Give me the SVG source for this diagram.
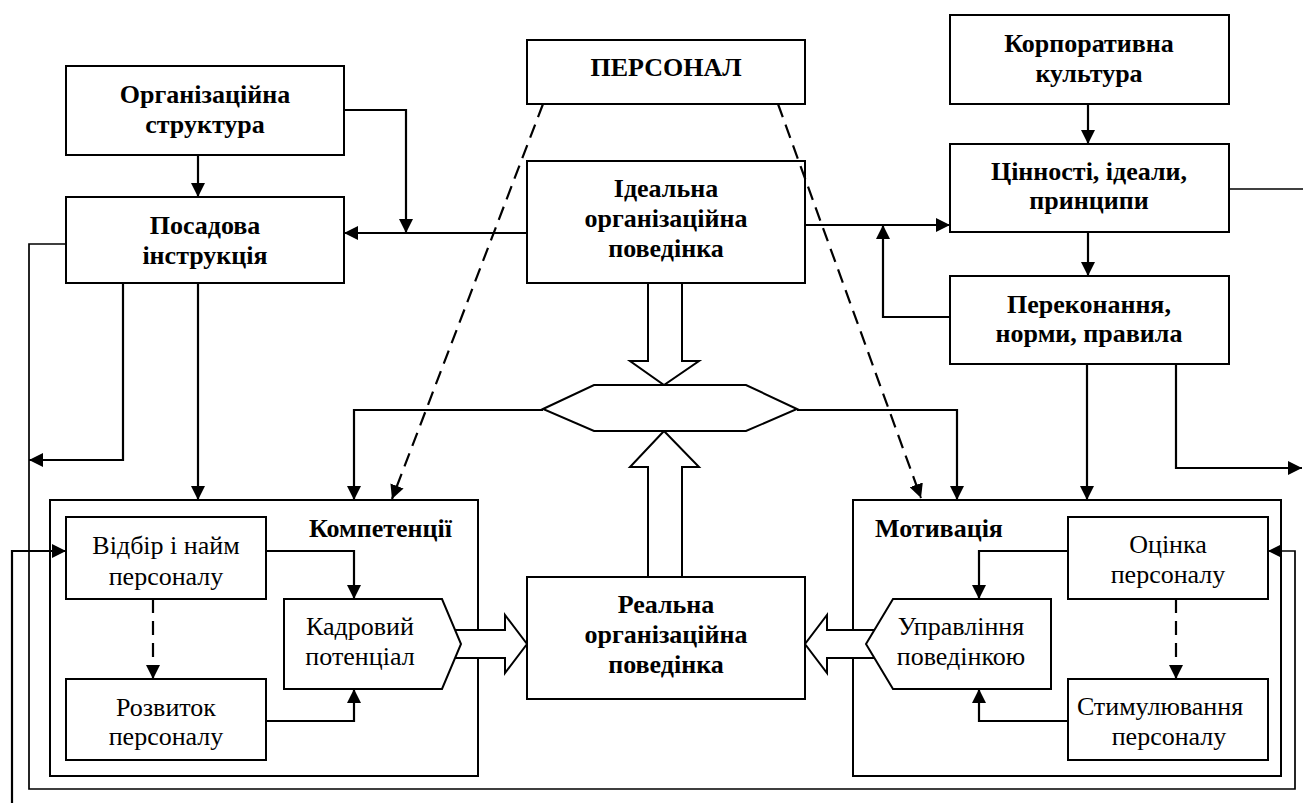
<svg xmlns="http://www.w3.org/2000/svg" width="1303" height="803" viewBox="0 0 1303 803">
<style>
.box{fill:#fff;stroke:#000;stroke-width:2}
.cont{fill:none;stroke:#000;stroke-width:2}
text{font-family:'Liberation Serif','DejaVu Serif',serif;font-size:26px;fill:#000}
.b{font-weight:bold;text-anchor:middle}
.r{text-anchor:middle}
.bl{font-weight:bold}
.ln{fill:none;stroke:#000;stroke-width:2.2}
.thin{fill:none;stroke:#000;stroke-width:1.7}
.dash{fill:none;stroke:#000;stroke-width:2.2;stroke-dasharray:14,8}
.big{fill:#fff;stroke:#000;stroke-width:2}
</style>
<defs>
<marker id="ah" markerUnits="userSpaceOnUse" markerWidth="16" markerHeight="14" refX="14" refY="7" orient="auto">
<path d="M0,0 L14,7 L0,14 z" fill="#000"/>
</marker>
</defs>
<rect width="1303" height="803" fill="#fff"/>

<g id="kompetentsii">
<rect class="cont" x="50" y="500" width="428" height="276"/>
<text class="bl" x="309" y="537" font-family="Liberation Serif, serif">Компетенції</text>
</g>
<g id="motyvatsiia">
<rect class="cont" x="853" y="500" width="428" height="276"/>
<text class="bl" x="875" y="537">Мотивація</text>
</g>

<g id="flows">
<polygon class="big" points="648,283 648,361 630,361 664,385 699,361 682,361 682,283"/>
<polygon class="big" points="648,577 648,467 630,467 664,431 699,467 682,467 682,577"/>
<polygon class="big" points="448,630 505,630 505,615 527,644 505,673 505,658 448,658"/>
<polygon class="big" points="884,630 827,630 827,615 805,644 827,673 827,658 884,658"/>
</g>

<g id="org-struktura">
<rect class="box" x="66" y="66" width="278" height="89"/>
<text class="b" x="205" y="103">Організаційна</text>
<text class="b" x="205" y="133">структура</text>
</g>
<g id="posadova">
<rect class="box" x="66" y="197" width="278" height="86"/>
<text class="b" x="205" y="234">Посадова</text>
<text class="b" x="205" y="264">інструкція</text>
</g>
<g id="personal">
<rect class="box" x="527" y="40" width="278" height="64"/>
<text class="b" x="666" y="76">ПЕРСОНАЛ</text>
</g>
<g id="idealna">
<rect class="box" x="527" y="161" width="278" height="122"/>
<text class="b" x="666" y="197">Ідеальна</text>
<text class="b" x="666" y="227">організаційна</text>
<text class="b" x="666" y="257">поведінка</text>
</g>
<g id="korporatyvna">
<rect class="box" x="950" y="15" width="279" height="89"/>
<text class="b" x="1089" y="52">Корпоративна</text>
<text class="b" x="1089" y="82">культура</text>
</g>
<g id="tsinnosti">
<rect class="box" x="950" y="144" width="279" height="88"/>
<text class="b" x="1089" y="180">Цінності, ідеали,</text>
<text class="b" x="1089" y="209">принципи</text>
</g>
<g id="perekonannia">
<rect class="box" x="950" y="276" width="279" height="88"/>
<text class="b" x="1089" y="313">Переконання,</text>
<text class="b" x="1089" y="342">норми, правила</text>
</g>
<g id="hexagon">
<polygon class="box" points="543,409 594,385 746,385 797,409 746,431 594,431"/>
</g>
<g id="realna">
<rect class="box" x="527" y="577" width="278" height="122"/>
<text class="b" x="666" y="613">Реальна</text>
<text class="b" x="666" y="643">організаційна</text>
<text class="b" x="666" y="673">поведінка</text>
</g>
<g id="vidbir">
<rect class="box" x="66" y="517" width="200" height="82"/>
<text class="r" x="166" y="554">Відбір і найм</text>
<text class="r" x="166" y="585">персоналу</text>
</g>
<g id="rozvytok">
<rect class="box" x="66" y="679" width="200" height="81"/>
<text class="r" x="166" y="716">Розвиток</text>
<text class="r" x="166" y="745">персоналу</text>
</g>
<g id="kadrovyi">
<polygon class="box" points="284,599 442,599 461,644 442,689 284,689"/>
<text class="r" x="360" y="635">Кадровий</text>
<text class="r" x="360" y="665">потенціал</text>
</g>
<g id="otsinka">
<rect class="box" x="1068" y="517" width="200" height="82"/>
<text class="r" x="1168" y="553">Оцінка</text>
<text class="r" x="1168" y="583">персоналу</text>
</g>
<g id="stymuliuvannia">
<rect class="box" x="1068" y="679" width="200" height="81"/>
<text class="r" x="1160" y="715">Стимулювання</text>
<text class="r" x="1169" y="745">персоналу</text>
</g>
<g id="upravlinnia">
<polygon class="box" points="866,644 893,599 1051,599 1051,689 893,689"/>
<text class="r" x="961" y="635">Управління</text>
<text class="r" x="961" y="665">поведінкою</text>
</g>

<g id="connectors">
<path class="ln" d="M198,155 V197" marker-end="url(#ah)"/>
<path class="ln" d="M344,110 H406 V233" marker-end="url(#ah)"/>
<path class="ln" d="M527,233 H344" marker-end="url(#ah)"/>
<path class="ln" d="M805,225 H950" marker-end="url(#ah)"/>
<path class="ln" d="M950,317 H883 V225" marker-end="url(#ah)"/>
<path class="ln" d="M1088,104 V144" marker-end="url(#ah)"/>
<path class="ln" d="M1088,232 V276" marker-end="url(#ah)"/>
<path class="thin" d="M1229,189 H1303"/>
<path class="ln" d="M1087,364 V500" marker-end="url(#ah)"/>
<path class="ln" d="M1176,364 V468 H1302" marker-end="url(#ah)"/>
<path class="ln" d="M198,283 V500" marker-end="url(#ah)"/>
<path class="ln" d="M123,283 V460 H29" marker-end="url(#ah)"/>
<path class="thin" d="M66,244 H29 V789 H1295 V551 H1268" marker-end="url(#ah)"/>
<path class="ln" d="M12,803 V551 H66" marker-end="url(#ah)"/>
<path class="ln" d="M543,410 H354 V500" marker-end="url(#ah)"/>
<path class="ln" d="M797,410 H957 V500" marker-end="url(#ah)"/>
<path class="dash" d="M543,104 L392,499" marker-end="url(#ah)"/>
<path class="dash" d="M778,104 L921,498" marker-end="url(#ah)"/>
<path class="ln" d="M266,551 H354 V599" marker-end="url(#ah)"/>
<path class="ln" d="M266,721 H354 V689" marker-end="url(#ah)"/>
<path class="dash" d="M153,599 V679" marker-end="url(#ah)"/>
<path class="ln" d="M1068,551 H979 V599" marker-end="url(#ah)"/>
<path class="ln" d="M1068,721 H979 V689" marker-end="url(#ah)"/>
<path class="dash" d="M1176,599 V679" marker-end="url(#ah)"/>
</g>
</svg>
